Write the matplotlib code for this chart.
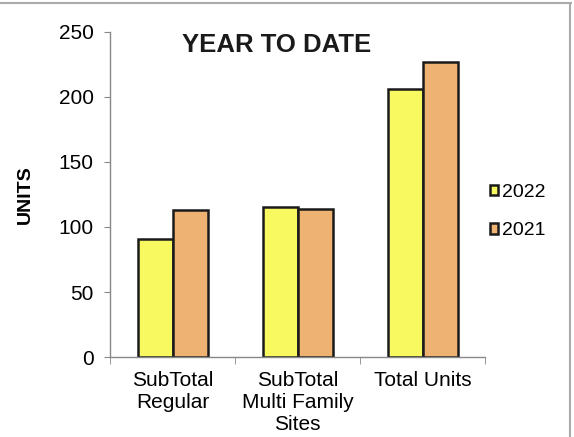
import numpy as np
import matplotlib.pyplot as plt

plt.rcParams['font.family'] = ['Liberation Sans', 'DejaVu Sans']

# Data
categories = ['SubTotal\nRegular', 'SubTotal\nMulti Family\nSites', 'Total Units']
units_2022 = [91, 115, 206]
units_2021 = [113, 114, 227]

fig = plt.figure(figsize=(5.74, 4.37), dpi=100)
ax = fig.add_axes([0.192, 0.183, 0.653, 0.744])

x = np.arange(len(categories))
w = 0.28
b1 = ax.bar(x - w / 2, units_2022, w, color='#F8F860', edgecolor='#1a1a1a', linewidth=1.8, label='2022')
b2 = ax.bar(x + w / 2, units_2021, w, color='#EEB272', edgecolor='#1a1a1a', linewidth=1.8, label='2021')

ax.set_xlim(-0.5, len(categories) - 0.5)
ax.set_ylim(0, 250)
ax.set_yticks(range(0, 251, 50))
ax.set_xticks(x)
ax.set_xticklabels(categories, fontsize=15, linespacing=1.2)
ax.set_xticks(np.arange(-0.5, len(categories)), minor=True)
ax.tick_params(axis='x', which='major', length=0, pad=10)
ax.tick_params(axis='x', which='minor', length=5, color='#888888')
ax.tick_params(axis='y', labelsize=15, length=4, color='#888888', pad=8)

for s in ['top', 'right']:
    ax.spines[s].set_visible(False)
for s in ['left', 'bottom']:
    ax.spines[s].set_color('#888888')
    ax.spines[s].set_linewidth(1.0)

ax.set_ylabel('UNITS', fontsize=14, fontweight='bold', labelpad=18)
fig.text(0.482, 0.898, 'YEAR TO DATE', fontsize=18.5, fontweight='bold',
         ha='center', va='center', color='#1a1a1a')

leg = fig.legend(handles=[b1, b2], loc='center left', bbox_to_anchor=(0.853, 0.516),
                 frameon=False, fontsize=14, handlelength=0.45, handleheight=0.45,
                 handletextpad=0.2, labelspacing=1.1, borderpad=0, borderaxespad=0)

# outer frame lines (top and right) of the original chart box
fig.add_artist(plt.Line2D([0, 0.995], [0.993, 0.993], color='#aaaaaa', linewidth=1.5))
fig.add_artist(plt.Line2D([0.993, 0.993], [0, 0.993], color='#aaaaaa', linewidth=1.5))

fig.savefig('out.png', dpi=100)
